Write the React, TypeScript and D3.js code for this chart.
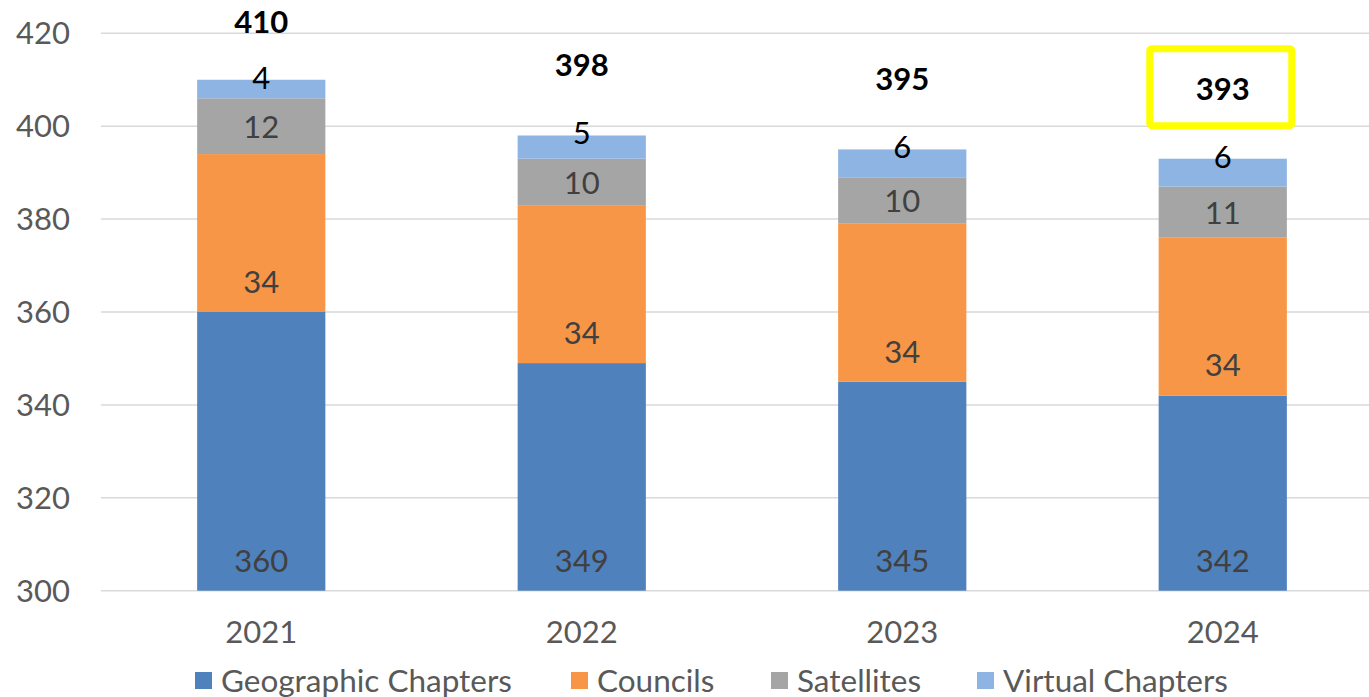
import React, { useEffect, useRef } from 'react';
import * as d3 from 'd3';

const years = ['2021', '2022', '2023', '2024'];
const geographic = [360, 349, 345, 342];
const councils = [34, 34, 34, 34];
const satellites = [12, 10, 10, 11];
const virtualChapters = [4, 5, 6, 6];
const totals = [410, 398, 395, 393];
const yTicks = [300, 320, 340, 360, 380, 400, 420];

const seriesNames = ['Geographic Chapters', 'Councils', 'Satellites', 'Virtual Chapters'];
const colors = ['#4F81BD', '#F79646', '#A5A5A5', '#8EB4E3'];

export default function App() {
  const ref = useRef<SVGSVGElement>(null);

  useEffect(() => {
    const svg = d3.select(ref.current);
    svg.selectAll('*').remove();

    const width = 1369;
    const height = 697;
    const font = 'Lato, "Noto Sans", sans-serif';

    const x = d3.scaleBand().domain(years).range([101, 1383]).paddingInner(0.6).paddingOuter(0.3);
    const y = d3.scaleLinear().domain([300, 420]).range([590.7, 33.3]);
    const yMin = y.domain()[0];

    // gridlines
    svg
      .append('g')
      .selectAll('line')
      .data(yTicks)
      .enter()
      .append('line')
      .attr('x1', 101)
      .attr('x2', width)
      .attr('y1', (d) => y(d))
      .attr('y2', (d) => y(d))
      .attr('stroke', '#D9D9D9')
      .attr('stroke-width', 1.5);

    // y tick labels
    svg
      .append('g')
      .selectAll('text')
      .data(yTicks)
      .enter()
      .append('text')
      .attr('x', 70)
      .attr('y', (d) => y(d))
      .attr('dy', '0.35em')
      .attr('text-anchor', 'end')
      .attr('font-family', font)
      .attr('font-size', 31)
      .attr('fill', '#595959')
      .text((d) => d);

    // stacked bars (axis starts at 300, so the base is cut there)
    const rows = years.map((yr, i) => ({
      year: yr,
      geographic: geographic[i],
      councils: councils[i],
      satellites: satellites[i],
      virtual: virtualChapters[i],
    }));
    const keys = ['geographic', 'councils', 'satellites', 'virtual'];
    const stack = d3.stack<any>().keys(keys)(rows);

    stack.forEach((layer, li) => {
      const g = svg.append('g');
      g.selectAll('rect')
        .data(layer)
        .enter()
        .append('rect')
        .attr('x', (d) => x(d.data.year)!)
        .attr('width', x.bandwidth())
        .attr('y', (d) => y(d[1]))
        .attr('height', (d) => y(Math.max(yMin, d[0])) - y(d[1]))
        .attr('fill', colors[li]);

      g.selectAll('text')
        .data(layer)
        .enter()
        .append('text')
        .attr('x', (d) => x(d.data.year)! + x.bandwidth() / 2)
        .attr('y', (d) => {
          const base = y(Math.max(yMin, d[0]));
          if (li === 0 || li === 1) return base - 30;
          if (li === 2) return (base + y(d[1])) / 2 + 1;
          return y(d[1]) - 2;
        })
        .attr('dy', '0.35em')
        .attr('text-anchor', 'middle')
        .attr('font-family', font)
        .attr('font-size', 31)
        .attr('fill', li === 3 ? '#000000' : '#404040')
        .text((d) => d[1] - d[0]);
    });

    // totals
    svg
      .append('g')
      .selectAll('text')
      .data(totals)
      .enter()
      .append('text')
      .attr('x', (d, i) => x(years[i])! + x.bandwidth() / 2)
      .attr('y', (d) => Math.max(22, y(d) - 70))
      .attr('dy', '0.35em')
      .attr('text-anchor', 'middle')
      .attr('font-family', font)
      .attr('font-size', 31)
      .attr('font-weight', 'bold')
      .attr('fill', '#000000')
      .text((d) => d);

    // highlight box on the last total
    const lastX = x(years[3])! + x.bandwidth() / 2;
    const lastY = Math.max(22, y(totals[3]) - 70);
    svg
      .append('rect')
      .attr('x', lastX - 73)
      .attr('y', lastY - 40)
      .attr('width', 142)
      .attr('height', 77)
      .attr('rx', 2)
      .attr('fill', 'none')
      .attr('stroke', '#FFFF00')
      .attr('stroke-width', 7);

    // x labels
    svg
      .append('g')
      .selectAll('text')
      .data(years)
      .enter()
      .append('text')
      .attr('x', (d) => x(d)! + x.bandwidth() / 2)
      .attr('y', 632)
      .attr('dy', '0.35em')
      .attr('text-anchor', 'middle')
      .attr('font-family', font)
      .attr('font-size', 31)
      .attr('fill', '#595959')
      .text((d) => d);

    // legend
    const legendX = [195, 571, 771, 977];
    const legend = svg
      .append('g')
      .selectAll('g')
      .data(seriesNames)
      .enter()
      .append('g')
      .attr('transform', (d, i) => `translate(${legendX[i]}, 672)`);
    legend
      .append('rect')
      .attr('width', 17)
      .attr('height', 17)
      .attr('fill', (d, i) => colors[i]);
    legend
      .append('text')
      .attr('x', 26)
      .attr('y', 9)
      .attr('dy', '0.35em')
      .attr('font-family', font)
      .attr('font-size', 31.5)
      .attr('fill', '#595959')
      .text((d) => d);

    svg.attr('width', width).attr('height', height);
  }, []);

  return (
    <div style={{ position: 'absolute', left: 0, top: 0 }}>
      <svg ref={ref} width={1369} height={697} style={{ display: 'block', background: '#fff' }} />
    </div>
  );
}
